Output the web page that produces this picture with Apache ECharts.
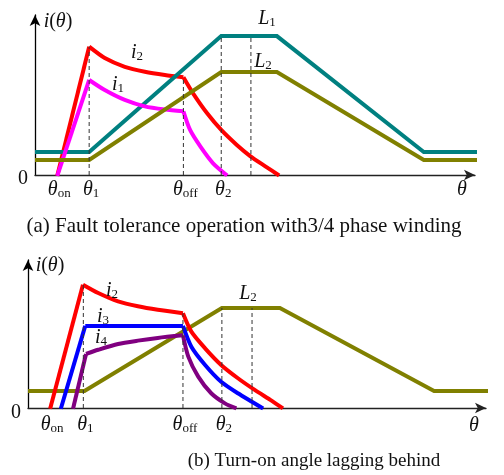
<!DOCTYPE html>
<html><head><meta charset="utf-8">
<script src="https://cdn.jsdelivr.net/npm/echarts@6/dist/echarts.min.js"></script>
<style>html,body{margin:0;padding:0;background:#fff}#c{width:504px;height:475px}</style>
</head><body><div id="c"></div>
<script>
// ---- Panel (a): fault-tolerant operation with 3/4 phase winding ----
// rotor angle in arbitrary units, inductance / current in per-unit
const angA = { on: 3, t1: 7.3, off: 20, t2: 25.1, t3: 29.1 };
const L1a = [[0, 13.9], [7.3, 13.9], [25.1, 84.2], [32.6, 84.2], [52.4, 13.9], [59.9, 13.9]];
const L2a = [[0, 9.1], [7.3, 9.1], [25.1, 62.4], [32.6, 62.4], [52.4, 9.1], [59.9, 9.1]];
const i2aRise = [[3, -0.5], [7.3, 77.8]];
const i2aHold = [[7.3, 77.8], [9.4, 70.9], [12.1, 65.6], [14.8, 62.6], [17.5, 60.6], [20, 59.2]];
const i2aFall = [[20, 59.2], [21.3, 49.5], [23.2, 37.4], [25.1, 27.3], [27.2, 18.2], [29, 11.5], [31.2, 4.8], [32.9, -0.3]];
const i1aRise = [[3, -0.5], [7.3, 57.6]];
const i1aHold = [[7.3, 57.6], [9.4, 51.5], [12.1, 45.5], [14.8, 41.6], [17.5, 39.7], [20, 38.6]];
const i1aFall = [[20, 38.6], [20.9, 27.3], [22.3, 17.2], [24, 7.1], [25.9, -0.3]];
const guidesA = [[7.3, 77.8], [20, 59.2], [25.1, 84.2], [29.1, 84.2]];

// ---- Panel (b): turn-on angle lagging behind ----
const angB = { on: 2.9, t1: 7.25, off: 20.3, t2: 25.4 };
const L2b = [[0, 10.6], [7.4, 10.6], [25.4, 62.5], [33, 62.5], [53.2, 10.6], [60.7, 10.6]];
const i2bRise = [[2.9, -0.5], [7.2, 77.1]];
const i2bHold = [[7.2, 77.1], [9.2, 71.9], [11.8, 66.7], [14.4, 63.6], [17, 61.4], [20.3, 59.2]];
const i2bFall = [[20.3, 59.2], [21.4, 47.7], [23.2, 37.3], [25.3, 26.9], [27.5, 18.6], [29.7, 11.3], [31.9, 4.6], [33.4, -0.3]];
const i3bRise = [[4.3, -0.5], [7.5, 51.3]];
const i3bHold = [[7.5, 51.3], [20.3, 51.3]];
const i3bFall = [[20.3, 51.3], [21.4, 38.3], [23.2, 26.9], [25.3, 16.4], [27.5, 9.2], [30.8, -0.3]];
const i4bRise = [[5.9, -0.5], [7.6, 33.8]];
const i4bHold = [[7.6, 33.8], [9.2, 36.4], [11.8, 40], [14.4, 42.1], [17, 43.8], [20.3, 45.4]];
const i4bFall = [[20.3, 45.4], [21, 32.1], [22.3, 19.6], [24, 9.2], [25.8, 2.9], [27.3, -0.3]];
const guidesB = [[7.25, 77.1], [20.3, 59.2], [25.4, 62.5], [29.35, 62.5]];

const SERIF = '"Liberation Serif", "DejaVu Serif", serif';
const C = { red: '#ff0000', mag: '#ff00ff', teal: '#008080', olive: '#808000', blue: '#0000ff', purple: '#800080' };

function curve(data, color, g, smooth, z) {
  return {
    type: 'line', data, xAxisIndex: g, yAxisIndex: g, symbol: 'none', clip: false,
    smooth: smooth ? 0.25 : false, z: z || 2, silent: true,
    lineStyle: { color, width: 4, cap: 'butt', join: 'miter' }
  };
}
function guide(pt, g) {
  return {
    type: 'line', data: [[pt[0], 0], pt], xAxisIndex: g, yAxisIndex: g, symbol: 'none',
    clip: false, z: 6, silent: true,
    lineStyle: { color: '#333', width: 1, type: [4, 3] }
  };
}
function axisPair(grid, xMax, yMax) {
  const base = { min: 0, type: 'value', gridIndex: grid, axisTick: { show: false },
    axisLabel: { show: false }, splitLine: { show: false }, silent: true };
  return [
    Object.assign({}, base, { max: xMax, axisLine: { onZero: false, symbol: ['none', 'arrow'], symbolSize: [8, 11],
      lineStyle: { color: '#222', width: 1.3 } } }),
    Object.assign({}, base, { max: yMax, axisLine: { onZero: false, symbol: ['none', 'arrow'], symbolSize: [8, 11],
      lineStyle: { color: '#000', width: 1.3 } } })
  ];
}
const axA = axisPair(0, 59.3, 97);
const axB = axisPair(1, 60, 92.5);

const series = [
  curve(i2aRise, C.red, 0, false, 2), curve(i2aHold, C.red, 0, true, 2), curve(i2aFall, C.red, 0, true, 2),
  curve(L1a, C.teal, 0, false, 3),
  curve(i1aRise, C.mag, 0, false, 4), curve(i1aHold, C.mag, 0, true, 4), curve(i1aFall, C.mag, 0, true, 4),
  curve(L2a, C.olive, 0, false, 5),
  curve(L2b, C.olive, 1, false, 2),
  curve(i2bRise, C.red, 1, false, 3), curve(i2bHold, C.red, 1, true, 3), curve(i2bFall, C.red, 1, true, 3),
  curve(i3bRise, C.blue, 1, false, 4), curve(i3bHold, C.blue, 1, false, 4), curve(i3bFall, C.blue, 1, true, 4),
  curve(i4bRise, C.purple, 1, false, 5), curve(i4bHold, C.purple, 1, true, 5), curve(i4bFall, C.purple, 1, true, 5)
];
guidesA.forEach(p => series.push(guide(p, 0)));
guidesB.forEach(p => series.push(guide(p, 1)));

const chart = echarts.init(document.getElementById('c'), null, { renderer: 'canvas' });
chart.setOption({
  animation: false,
  backgroundColor: '#fff',
  grid: [
    { left: 35, top: 15, width: 440, height: 160 },
    { left: 28, top: 260, width: 458, height: 148 }
  ],
  xAxis: [axA[0], axB[0]],
  yAxis: [axA[1], axB[1]],
  series
});

// text helpers: italic symbol with upright subscript
const rich = {
  it: { fontFamily: SERIF, fontStyle: 'italic', fontSize: 20, fill: '#111', verticalAlign: 'bottom', lineHeight: 22 },
  up: { fontFamily: SERIF, fontSize: 20, fill: '#111', verticalAlign: 'bottom', lineHeight: 22 },
  sub: { fontFamily: SERIF, fontSize: 13, fill: '#111', verticalAlign: 'bottom', lineHeight: 19 }
};
function txt(text, x, y) {
  return { type: 'text', x, y, silent: true, z: 20,
    style: { text, rich, align: 'center', verticalAlign: 'middle', fill: '#111' } };
}
function sym(main, sub) { return '{it|' + main + '}' + (sub ? '{sub|' + sub + '}' : ''); }

const gfx = [];
function ticks(ang, grid, yPix) {
  const names = { on: 'on', t1: '1', off: 'off', t2: '2' };
  Object.keys(names).forEach(k => {
    const px = chart.convertToPixel({ gridIndex: grid }, [ang[k], 0])[0];
    gfx.push(txt(sym('θ', names[k]), px + 2, yPix));
  });
}
ticks(angA, 0, 189);
ticks(angB, 1, 424);

// panel (a) annotations
gfx.push(txt('{it|i}{up|(}{it|θ}{up|)}', 58, 21));
gfx.push(txt('{up|0}', 23, 178));
gfx.push(txt('{it|θ}', 462, 189));
gfx.push(txt(sym('i', '2'), 137, 52));
gfx.push(txt(sym('i', '1'), 118, 84));
gfx.push(txt(sym('L', '1'), 267, 18));
gfx.push(txt(sym('L', '2'), 263, 61));
gfx.push({ type: 'text', x: 244, y: 226, silent: true,
  style: { text: '(a) Fault tolerance operation with3/4 phase winding', font: '21px ' + SERIF, fill: '#111', align: 'center', verticalAlign: 'middle' } });

// panel (b) annotations
gfx.push(txt('{it|i}{up|(}{it|θ}{up|)}', 50, 265));
gfx.push(txt('{up|0}', 16, 412));
gfx.push(txt('{it|θ}', 474, 425));
gfx.push(txt(sym('i', '2'), 112, 290));
gfx.push(txt(sym('i', '3'), 103, 316));
gfx.push(txt(sym('i', '4'), 101, 337));
gfx.push(txt(sym('L', '2'), 248, 293));
gfx.push({ type: 'text', x: 314, y: 461, silent: true,
  style: { text: '(b) Turn-on angle lagging behind', font: '19px ' + SERIF, fill: '#111', align: 'center', verticalAlign: 'middle' } });

chart.setOption({ graphic: { elements: gfx } });
</script>
</body></html>
